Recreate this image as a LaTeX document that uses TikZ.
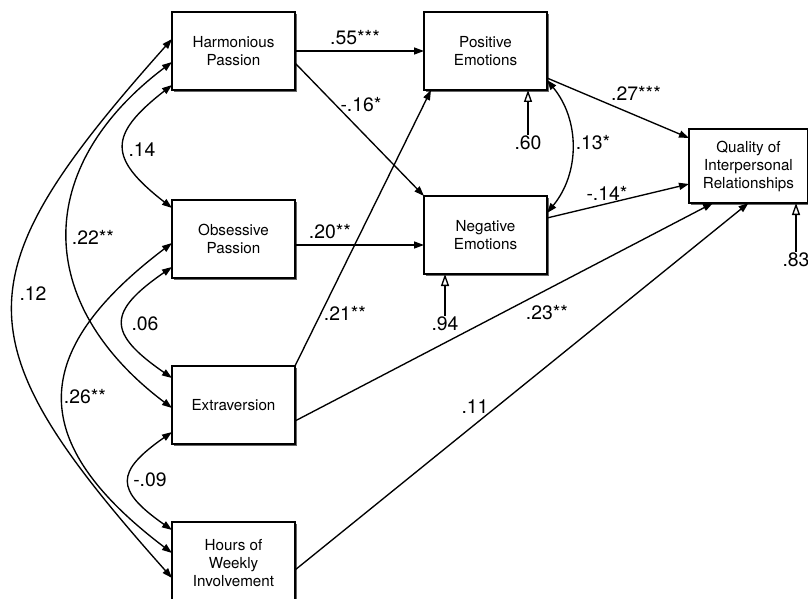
\documentclass[tikz,border=0pt]{standalone}
\usepackage{fontspec}
\setmainfont{TeX Gyre Heros}
\usetikzlibrary{arrows.meta, positioning, shadows}

\begin{document}
\begin{tikzpicture}[
            x = 1pt, y = -1pt,
            >              = {Triangle[length = 10pt, width = 7pt]},
            varbox/.style  = {
                rectangle,
                draw            = black,
                fill            = white,
                line width      = 1.5pt,
                align           = center,
                font            = \fontsize{15.2}{18}\selectfont,
                minimum width   = 123pt,
                minimum height  = 78pt,
                inner sep       = 0pt,
                outer sep       = 0pt,
                drop shadow     = {shadow xshift = 2pt, shadow yshift = -2pt,
                                   fill = black!60, opacity = 1}
            },
            coef/.style    = {font = \fontsize{19.4}{22}\selectfont, inner sep = 1pt},
            effect/.style  = {line width = 1.35pt, ->},
            covar/.style   = {line width = 1.35pt, <->},
            resid/.style   = {line width = 1.35pt, -{Triangle[open, length = 12pt, width = 8pt]}}
        ]

            \useasboundingbox (0,0) rectangle (808,599);

            \node[varbox] (hp) at (233.5,51)          {Harmonious\\Passion};
            \node[varbox, below = 110pt of hp]  (op)  {Obsessive\\Passion};
            \node[varbox, below = 88pt of op]   (ext) {Extraversion};
            \node[varbox, below = 78pt of ext, minimum height = 82pt] (hours)
                {Hours of\\Weekly\\Involvement};
            \node[varbox, right = 129pt of hp]  (pe)  {Positive\\Emotions};
            \node[varbox, below = 106pt of pe]  (ne)  {Negative\\Emotions};
            \node[varbox, minimum width = 119pt, minimum height = 74pt] (qir) at (748.5,166)
                {Quality of\\Interpersonal\\Relationships};

            \node[coef] (b55)  at (355,38)  {.55***};
            \node[coef] (b16)  at (361,105) {-.16*};
            \node[coef] (b20)  at (330,232) {.20**};
            \node[coef] (b21)  at (345,313) {.21**};
            \node[coef] (b23)  at (547,313) {.23**};
            \node[coef] (b11)  at (475,407) {.11};
            \node[coef] (b27)  at (636,93)  {.27***};
            \node[coef] (b14)  at (607,193) {-.14*};
            \node[coef] (r13)  at (593,143) {.13*};
            \node[coef] (r14)  at (142,150) {.14};
            \node[coef] (r22)  at (93,237)  {.22**};
            \node[coef] (r12)  at (33,294)  {.12};
            \node[coef] (r06)  at (145,324) {.06};
            \node[coef] (r26)  at (85,397)  {.26**};
            \node[coef] (r09)  at (150,480) {-.09};
            \node[coef] (e60)  at (528,143) {.60};
            \node[coef] (e94)  at (445,324) {.94};
            \node[coef] (e83)  at (796,260) {.83};

            \draw[effect] (hp.east) -- (hp.east -| pe.west);
            \draw[effect] ([yshift=-12pt]hp.east) -- (ne.north west);
            \draw[effect] ([yshift=-6pt]op.east) -- ([yshift=-10pt]ne.west);
            \draw[effect] (ext.north east) -- ([xshift=7pt]pe.south west);
            \draw[effect] ([yshift=-16pt]ext.east) -- ([xshift=24pt]qir.south west);
            \draw[effect] ([yshift=-7pt]hours.east) -- (qir.south);
            \draw[effect] ([yshift=-27pt]pe.east) -- ([yshift=28pt]qir.west);
            \draw[effect] ([yshift=17pt]ne.east) -- ([yshift=-18pt]qir.west);

            \draw[covar] ([yshift=-34pt]hp.west)
                .. controls +(-64,50) and +(-64,-50) .. ([yshift=31pt]op.west);
            \draw[covar] ([yshift=-28pt]op.west)
                .. controls +(-65,45) and +(-65,-45) .. ([yshift=27pt]ext.west);
            \draw[covar] ([yshift=-27pt]ext.west)
                .. controls +(-57,40) and +(-57,-40) .. ([yshift=33pt]hours.west);
            \draw[covar] ([yshift=-11pt]hp.west)
                .. controls +(-139,105) and +(-139,-105) .. ([yshift=-3pt]ext.west);
            \draw[covar] ([yshift=-4pt]op.west)
                .. controls +(-145,110) and +(-145,-110) .. ([yshift=10pt]hours.west);
            \draw[covar] ([yshift=12pt]hp.west)
                .. controls +(-212,238) and +(-212,-238) .. ([yshift=-15pt]hours.west);
            \draw[covar] ([yshift=10pt]pe.south east)
                .. controls +(33,40) and +(33,-40) .. ([yshift=22pt]ne.east);

            \draw[resid] (e60.north) -- (e60.north |- pe.south);
            \draw[resid] (e94.north) -- (e94.north |- ne.south);
            \draw[resid] (e83.north) -- (e83.north |- qir.south);
        \end{tikzpicture}
\end{document}
